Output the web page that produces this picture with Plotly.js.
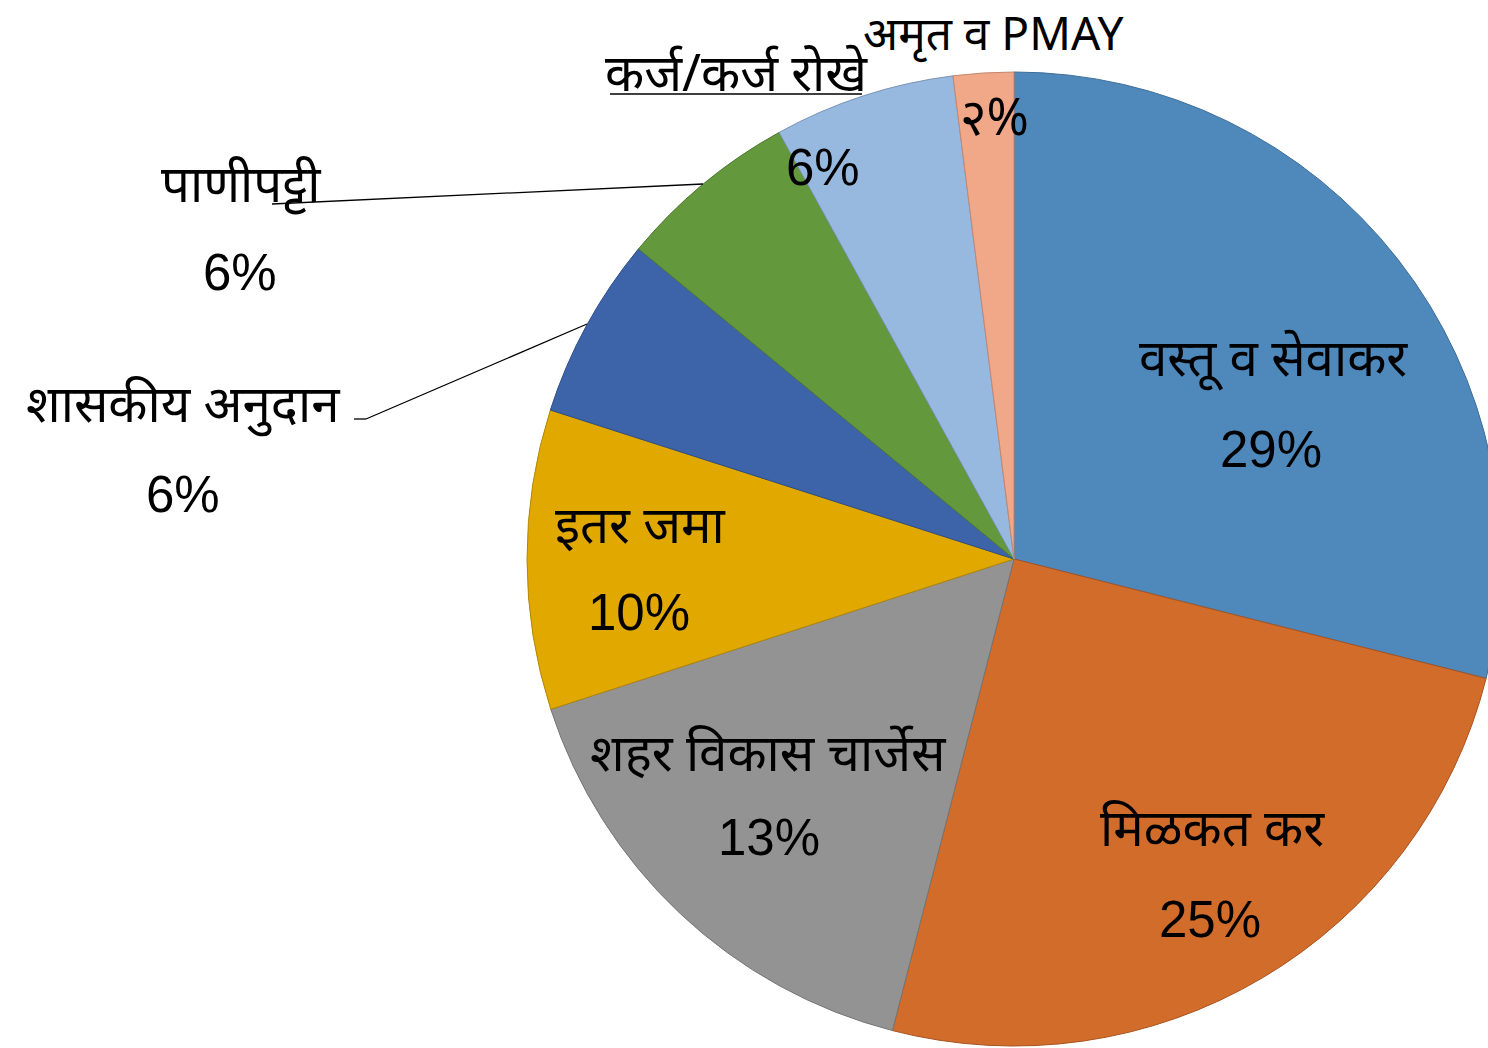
<!DOCTYPE html>
<html>
<head>
<meta charset="utf-8">
<script src="https://cdn.plot.ly/plotly-3.0.1.min.js"></script>
<style>
  html, body { margin: 0; padding: 0; overflow: hidden; background: #fff; }
  #chart { width: 1520px; height: 1048px; }
</style>
</head>
<body>
<div id="chart"></div>
<script>
// ---- data ----
const categories = ["वस्तू व सेवाकर", "मिळकत कर", "शहर विकास चार्जेस", "इतर जमा", "शासकीय अनुदान", "पाणीपट्टी", "कर्ज/कर्ज रोखे", "अमृत व PMAY"];
const shares = [28.94, 25.07, 15.99, 9.94, 6.04, 6.00, 6.01, 2.00];
const pctLabels = ["29%", "25%", "13%", "10%", "6%", "6%", "6%", "२%"];

// ---- styles ----
const sliceColors = ["#4F88BB", "#D26C2B", "#939393", "#E1A900", "#3D64A9", "#64983D", "#98B9DF", "#F0A889"];
const sliceEdges = ["#3E6E99", "#A9531F", "#767676", "#B38700", "#2F4E86", "#4E7830", "#7A95B5", "#C4876E"];

const W = 1520, H = 1048;
const px = x => x / W;
const py = y => 1 - y / H;

// label centre positions (pixels) for name and percent
const namePos = [[1273, 356], [1212, 826], [768, 751], [640, 523], [183, 402], [241, 182], [736, 71], [994, 0]];
const pctPos = [[1271, 449], [1210, 919], [769, 837], [639, 612], [183, 494], [240, 273], [823, 167], [995, 115]];

const devFont = "Noto Sans, Noto Sans Devanagari, Lohit Devanagari, Mangal, sans-serif";
const numFont = "Liberation Sans, Arial, sans-serif";

const annotations = [];
categories.forEach((c, i) => {
  annotations.push({
    xref: 'paper', yref: 'paper', x: px(namePos[i][0]), y: py(namePos[i][1]),
    xanchor: 'center', yanchor: (i === 7 ? 'top' : 'middle'), showarrow: false,
    borderpad: 0,
    text: c, font: { family: devFont, size: (i === 7 ? 46 : 51), color: '#000' }
  });
  annotations.push({
    xref: 'paper', yref: 'paper', x: px(pctPos[i][0]), y: py(pctPos[i][1]),
    xanchor: 'center', yanchor: 'middle', showarrow: false,
    text: pctLabels[i], font: { family: (i === 7 ? devFont : numFont), size: 51, color: '#000' }
  });
});

const seg = (x0, y0, x1, y1) => ({
  type: 'line', xref: 'paper', yref: 'paper',
  x0: px(x0), y0: py(y0), x1: px(x1), y1: py(y1),
  line: { color: '#000', width: 1.3 }
});
const shapes = [
  seg(272, 204, 703, 184),
  seg(354, 419, 366, 419), seg(366, 419, 587, 324),
  seg(610, 94, 862, 94)
];

const trace = {
  type: 'pie',
  labels: categories,
  values: shares,
  sort: false,
  direction: 'clockwise',
  rotation: 0,
  textinfo: 'none',
  hoverinfo: 'label+percent',
  marker: { colors: sliceColors, line: { color: sliceEdges, width: 1 } },
  domain: { x: [527 / W, 1501 / W], y: [(H - 1046) / H, (H - 72) / H] },
  showlegend: false
};

Plotly.newPlot('chart', [trace], {
  width: W, height: H,
  margin: { l: 0, r: 0, t: 0, b: 0, pad: 0 },
  paper_bgcolor: '#fff',
  showlegend: false,
  annotations: annotations,
  shapes: shapes
}, { displayModeBar: false, staticPlot: true });
</script>
</body>
</html>
